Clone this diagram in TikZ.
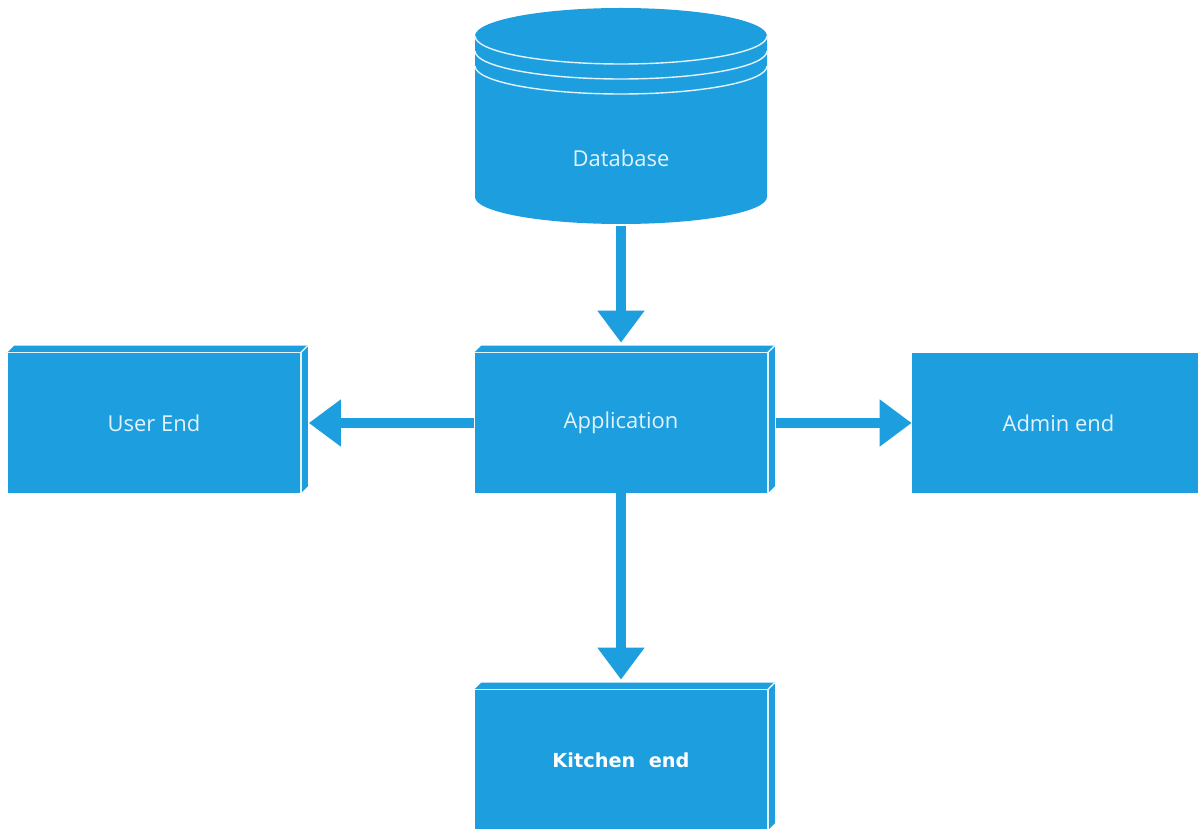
\documentclass[tikz,border=0pt]{standalone}
\usepackage{fontspec}
\setmainfont{Open Sans}
\newfontfamily\kitchenfont{DejaVu Sans}
\usepackage{tikz}
\usetikzlibrary{arrows.meta}

\definecolor{boxblue}{RGB}{29,158,223}
\definecolor{labelwhite}{RGB}{226,243,252}

\begin{document}
\begin{tikzpicture}[x=0.02cm, y=0.02cm,
  block/.style={rectangle, fill=boxblue, minimum width=5.86cm, minimum height=2.8cm,
    inner sep=0pt, text=labelwhite, font=\fontsize{12.5}{15}\selectfont},
  dbnode/.style={rectangle, minimum width=5.84cm, minimum height=2.72cm,
    inner sep=0pt, text=labelwhite, font=\fontsize{12.5}{15}\selectfont},
  rim/.style={draw=labelwhite, line width=0.8pt},
  flow/.style={draw=boxblue, line width=6.2pt, -{Triangle[length=0.64cm, width=0.9cm]}}]
  \clip (0,0) rectangle (1198,829);
  \fill[white] (0,0) rectangle (1198,829);

  % database
  \fill[boxblue] (475,793) -- (475,632)
    arc[start angle=180, end angle=360, x radius=146, y radius=27]
    -- (767,793) arc[start angle=0, end angle=180, x radius=146, y radius=28] -- cycle;
  \foreach \dy in {0,15,30}
    \draw[rim] (475,793-\dy) arc[start angle=180, end angle=360, x radius=146, y radius=28];
  \node (db) [dbnode] at (621,671) {Database};

  % blocks
  \node (user) [block] at (154,406) {User End};
  \node (app) [block] at (621,406) {Application};
  \node (admin) [block] at (1058.5,406) {Admin end};
  \node (kitchen) [block, font=\kitchenfont\bfseries\fontsize{11}{13}\selectfont, text=white] at (621,69) {Kitchen~ end};

  \foreach \n in {user,app,kitchen} {
    \fill[boxblue] (\n.north west) -- ++(7,7) -- ([shift={(7,7)}]\n.north east)
      -- ([shift={(7,7)}]\n.south east) -- (\n.south east) -- (\n.north east) -- cycle;
    \draw[rim] (\n.north west) -- (\n.north east) -- (\n.south east);
    \draw[rim] (\n.north east) -- ++(7,7);
  }

  % connectors
  \draw[flow] (db.south) -- ([yshift=0.2cm]app.north);
  \draw[flow] (app.west) -- ([xshift=0.16cm]user.east);
  \draw[flow] ([xshift=0.16cm]app.east) -- (admin.west);
  \draw[flow] (app.south) -- ([yshift=0.2cm]kitchen.north);
\end{tikzpicture}
\end{document}
